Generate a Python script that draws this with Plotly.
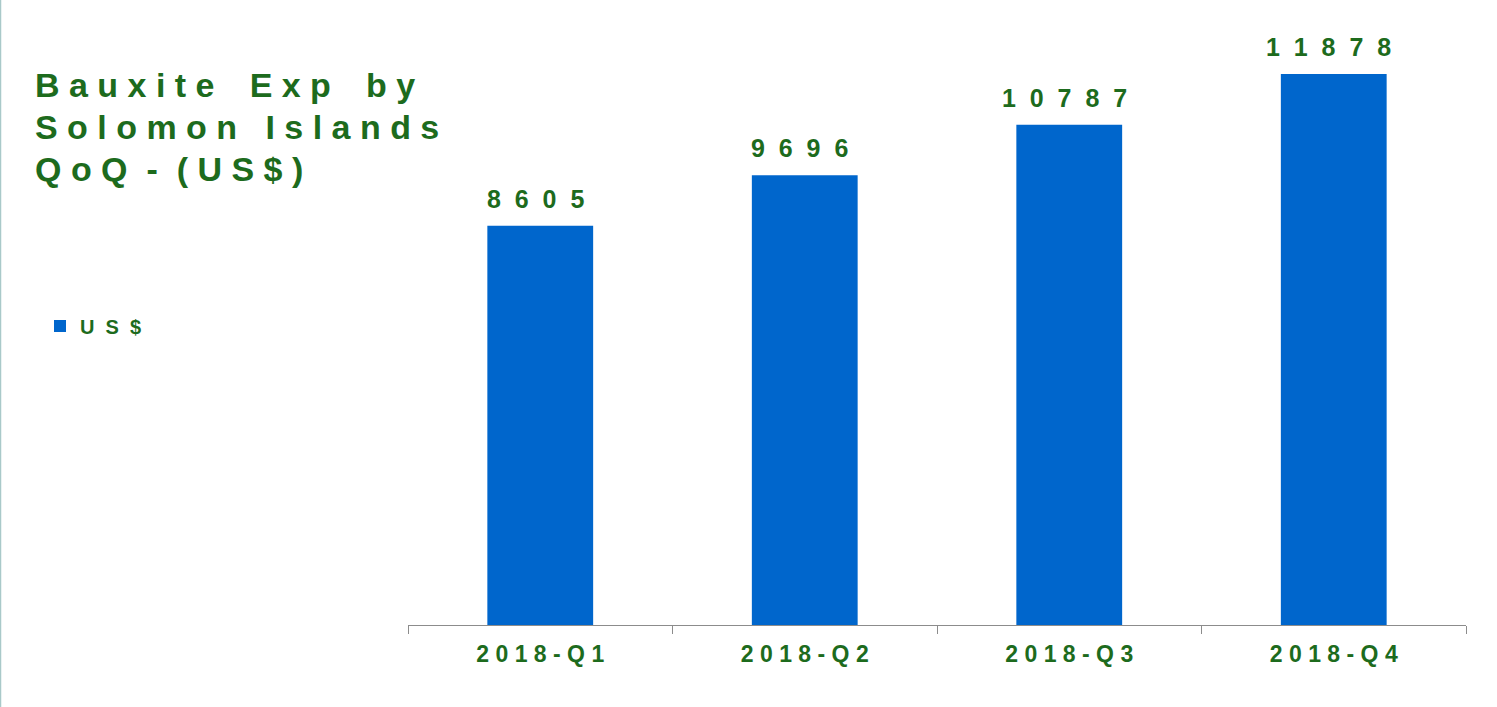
import plotly.graph_objects as go

categories = ["2018-Q1", "2018-Q2", "2018-Q3", "2018-Q4"]
values = [8605, 9696, 10787, 11878]
series_name = "US$"
title_lines = ["Bauxite Exp by", "Solomon Islands", "QoQ - (US$)"]

GREEN = "#1d6b1d"
BLUE = "#0066cc"
FONT = "Arial, 'Liberation Sans', sans-serif"

W, H = 1497, 707
L, R, T, B = 408, 31, 22, 82
ph = H - T - B
pw = W - L - R

NB = "\u00a0"
TH = "\u2009"


def spaced(s, gap, word_gap=None):
    out = []
    for i, ch in enumerate(s):
        if ch == " ":
            out.append(word_gap if word_gap is not None else gap)
            continue
        out.append(ch)
        if i < len(s) - 1 and s[i + 1] != " ":
            out.append(gap)
    return "".join(out)


def px_x(x):
    return (x - L) / pw


def px_y(y):
    return (H - B - y) / ph


tick_text = [spaced(c, NB) for c in categories]
label_text = [spaced(str(v), NB * 2) for v in values]

fig = go.Figure()
fig.add_trace(go.Bar(
    x=categories, y=values, name=spaced(series_name, NB * 2),
    marker=dict(color=BLUE, line=dict(width=0)),
))

annotations = []
for c, v, t in zip(categories, values, label_text):
    annotations.append(dict(
        x=c, y=v, xref="x", yref="y", text="<b>" + t + "</b>",
        showarrow=False, yanchor="bottom", xanchor="center", yshift=11, xshift=-5,
        font=dict(family=FONT, size=25, color=GREEN),
    ))

title_mids = [85, 127, 169]
word_gaps = [NB * 3 + TH, NB * 3, NB * 2]
for line, mid, wg in zip(title_lines, title_mids, word_gaps):
    annotations.append(dict(
        text="<b>" + spaced(line, NB, wg) + "</b>",
        xref="paper", yref="paper", x=px_x(33), y=px_y(mid),
        xanchor="left", yanchor="middle", showarrow=False,
        font=dict(family=FONT, size=34, color=GREEN),
    ))

shapes = [dict(type="line", xref="paper", yref="paper",
               x0=px_x(0.5), x1=px_x(0.5), y0=px_y(0), y1=px_y(H),
               line=dict(color="#a9c9c9", width=1.5))]

fig.update_layout(
    width=W, height=H,
    margin=dict(l=L, r=R, t=T, b=B),
    paper_bgcolor="white", plot_bgcolor="white",
    bargap=0.6,
    showlegend=True,
    legend=dict(x=px_x(40), y=px_y(326), xanchor="left", yanchor="middle",
                font=dict(family=FONT, size=20, color=GREEN, weight="bold"),
                bgcolor="rgba(0,0,0,0)"),
    annotations=annotations,
    shapes=shapes,
    font=dict(family=FONT, color=GREEN),
    xaxis=dict(
        tickmode="array", tickvals=categories, ticktext=tick_text,
        tickfont=dict(family=FONT, size=23, color=GREEN, weight="bold"),
        showline=True, linecolor="#8c8c8c", linewidth=1.2,
        ticks="outside", tickson="boundaries", ticklen=8, tickcolor="#8c8c8c",
        ticklabelstandoff=8,
        showgrid=False, zeroline=False,
    ),
    yaxis=dict(range=[0, 13000], visible=False, showgrid=False, zeroline=False),
)

fig.write_html("out.html", config={"displayModeBar": False},
               post_script="document.body.style.margin='0';document.body.style.overflow='hidden';")
